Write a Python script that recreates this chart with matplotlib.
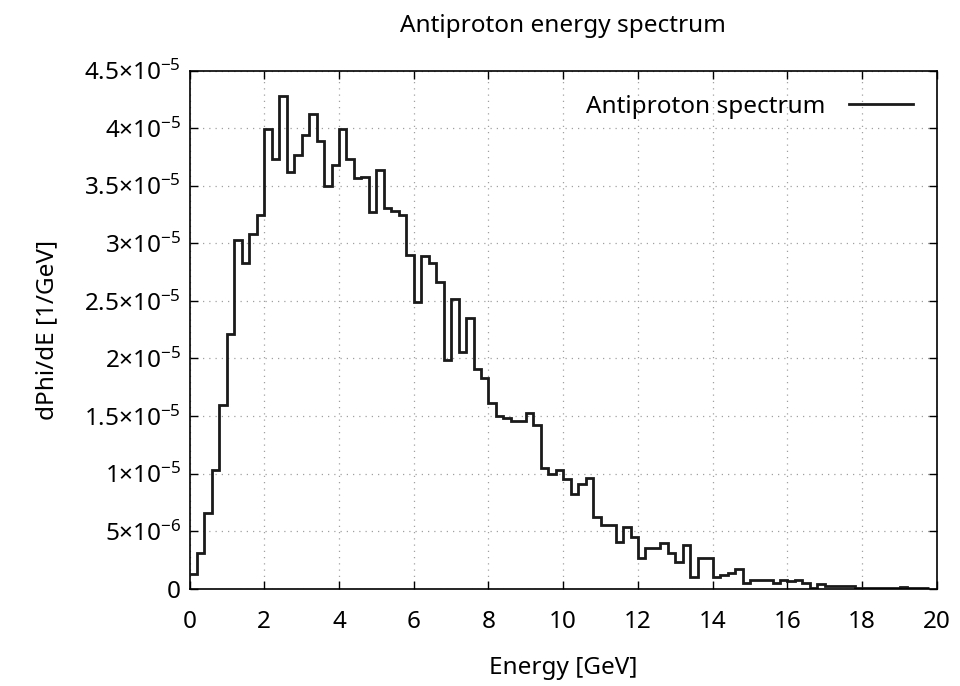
import numpy as np
from matplotlib import pyplot as plt

# spectrum in units of 1e-6 per GeV, 0.2 GeV bins starting at 0
bin_width = 0.2
flux = [1.28, 3.08, 6.62, 10.34, 16.0, 22.1, 30.3, 28.3, 30.8, 32.5,
        39.9, 37.3, 42.8, 36.2, 37.7, 39.4, 41.2, 38.85, 35.0, 36.8,
        39.9, 37.3, 35.7, 35.8, 32.75, 36.4, 33.1, 32.8, 32.5, 29.0,
        24.9, 28.9, 28.3, 26.6, 19.9, 25.2, 20.6, 23.5, 19.1, 18.3,
        16.1, 15.0, 14.85, 14.6, 14.6, 15.3, 14.26, 10.5, 10.0, 10.3,
        9.5, 8.25, 9.1, 9.6, 6.27, 5.52, 5.5, 4.07, 5.4, 4.53,
        2.65, 3.52, 3.52, 3.95, 3.08, 2.35, 3.8, 1.0, 2.65, 2.65,
        1.0, 1.19, 1.34, 1.69, 0.52, 0.8, 0.75, 0.8, 0.5, 0.8,
        0.65, 0.8, 0.5, 0.05, 0.45, 0.22, 0.22, 0.2, 0.2, 0.05,
        0.05, 0.05, 0.05, 0.05, 0.05, 0.15, 0.03, 0.03, 0.03]

xticks = list(range(0, 21, 2))
yticks = [0, 5e-6, 1e-5, 1.5e-5, 2e-5, 2.5e-5, 3e-5, 3.5e-5, 4e-5, 4.5e-5]
ytick_labels = ["0", r"$\mathregular{5{\times}10^{-6}}$", r"$\mathregular{1{\times}10^{-5}}$",
                r"$\mathregular{1.5{\times}10^{-5}}$", r"$\mathregular{2{\times}10^{-5}}$",
                r"$\mathregular{2.5{\times}10^{-5}}$", r"$\mathregular{3{\times}10^{-5}}$",
                r"$\mathregular{3.5{\times}10^{-5}}$", r"$\mathregular{4{\times}10^{-5}}$",
                r"$\mathregular{4.5{\times}10^{-5}}$"]

plt.rcParams['font.family'] = ['Noto Sans', 'DejaVu Sans']
plt.rcParams['mathtext.fontset'] = 'custom'
plt.rcParams['mathtext.rm'] = 'Noto Sans'
fs = 17.5

values = np.array(flux) * 1e-6
edges = np.arange(len(values) + 1) * bin_width

fig = plt.figure(figsize=(9.6, 6.86), dpi=100)
ax = fig.add_axes([0.1974, 0.1418, 0.7786, 0.7552])

ax.stairs(values, edges, baseline=None, color='#1a1a1a', linewidth=2.0,
          label='Antiproton spectrum')

ax.set_xlim(0, 20)
ax.set_ylim(0, 4.5e-5)
ax.set_xticks(xticks)
ax.set_yticks(yticks)
ax.set_yticklabels(ytick_labels)
ax.tick_params(direction='in', top=True, right=True, length=6, width=1,
               labelsize=fs)
ax.tick_params(axis='x', pad=15)
ax.tick_params(axis='y', pad=6)
for s in ax.spines.values():
    s.set_linewidth(1.2)
ax.grid(True, linestyle=(0, (1, 4)), color='#a0a0a0', linewidth=0.9)
ax.set_axisbelow(True)

ax.set_title('Antiproton energy spectrum', fontsize=fs, pad=28)
ax.set_xlabel('Energy [GeV]', fontsize=fs, labelpad=16)
ax.set_ylabel('dPhi/dE [1/GeV]', fontsize=fs, labelpad=18)

ax.legend(loc='upper right', frameon=False, markerfirst=False,
          handlelength=2.6, handletextpad=1.0, fontsize=fs,
          borderaxespad=0.6)

plt.savefig('out.png', dpi=100)
